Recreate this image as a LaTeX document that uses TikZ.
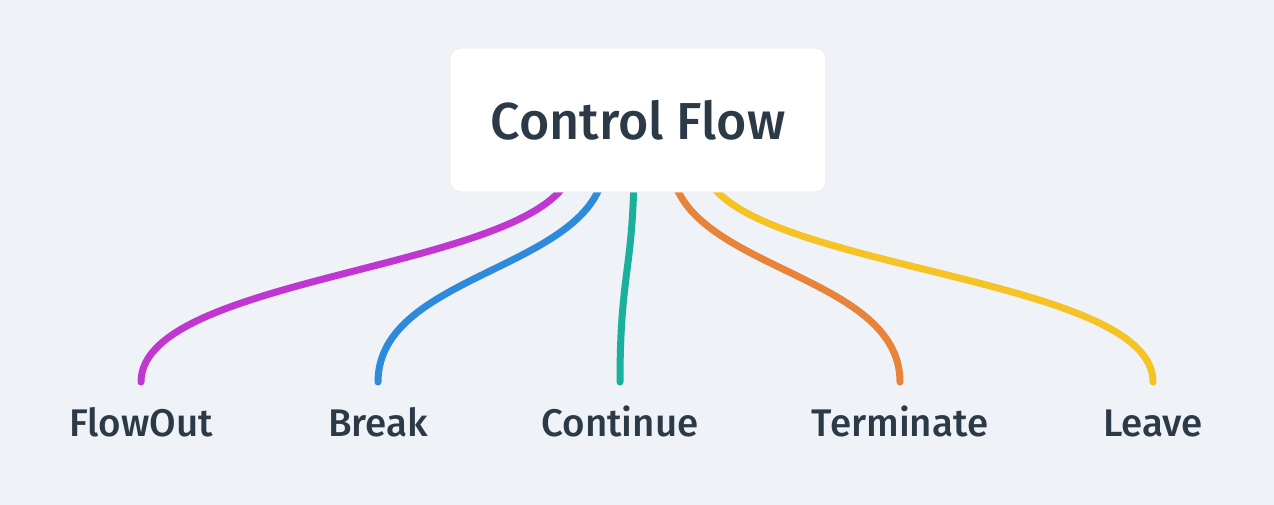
\documentclass[tikz,border=0pt]{standalone}
\usepackage{fontspec}
\setmainfont{Fira Sans}[UprightFont=* Medium]
\pgfdeclarelayer{back}\pgfdeclarelayer{bg}\pgfsetlayers{back,bg,main}
\definecolor{bgc}{HTML}{EFF2F6}
\definecolor{txt}{HTML}{2C3A48}
\definecolor{cmag}{HTML}{BF37D0}
\definecolor{cblue}{HTML}{2E8ADB}
\definecolor{cteal}{HTML}{1BB09C}
\definecolor{corange}{HTML}{E8843A}
\definecolor{cyellow}{HTML}{F6C325}
\begin{document}
\begin{tikzpicture}[x=1pt,y=-1pt,
  rootbox/.style={fill=white,draw=black!8,line width=0.8pt,rounded corners=11pt,minimum width=376pt,minimum height=144pt,inner sep=0pt,text=txt,font=\fontsize{52}{62}\selectfont},
  leaf/.style={anchor=base,text=txt,inner sep=0pt,font=\fontsize{38.5}{46}\selectfont},
  branch/.style={line width=7pt,line cap=round}]
\useasboundingbox (0,0) rectangle (1274,504);
\begin{pgfonlayer}{back}
\fill[bgc] (-2,-2) rectangle (1276,506);
\end{pgfonlayer}
\node[rootbox] (root) at (638,120) {Control Flow};
\node[leaf] (l1) at (141,436) {FlowOut};
\node[leaf] (l2) at (378,436) {Break};
\node[leaf] (l3) at (620,436) {Continue};
\node[leaf] (l4) at (900,436) {Terminate};
\node[leaf] (l5) at (1153,436) {Leave};
\coordinate (s1) at (573,160);
\coordinate (s2) at (605,160);
\coordinate (s3) at (634,160);
\coordinate (s4) at (671,160);
\coordinate (s5) at (703,160);
\coordinate (e1) at (141,382);
\coordinate (e2) at (378,382);
\coordinate (e3) at (620,382);
\coordinate (e4) at (900,382);
\coordinate (e5) at (1153,382);
\begin{pgfonlayer}{bg}
\draw[branch,cmag] (s1) .. controls +(0,110) and +(0,-112) .. (e1);
\draw[branch,cblue] (s2) .. controls +(0,110) and +(0,-112) .. (e2);
\draw[branch,cteal] (s3) .. controls +(0,110) and +(0,-112) .. (e3);
\draw[branch,corange] (s4) .. controls +(0,110) and +(0,-112) .. (e4);
\draw[branch,cyellow] (s5) .. controls +(0,110) and +(0,-112) .. (e5);
\end{pgfonlayer}
\end{tikzpicture}
\end{document}
